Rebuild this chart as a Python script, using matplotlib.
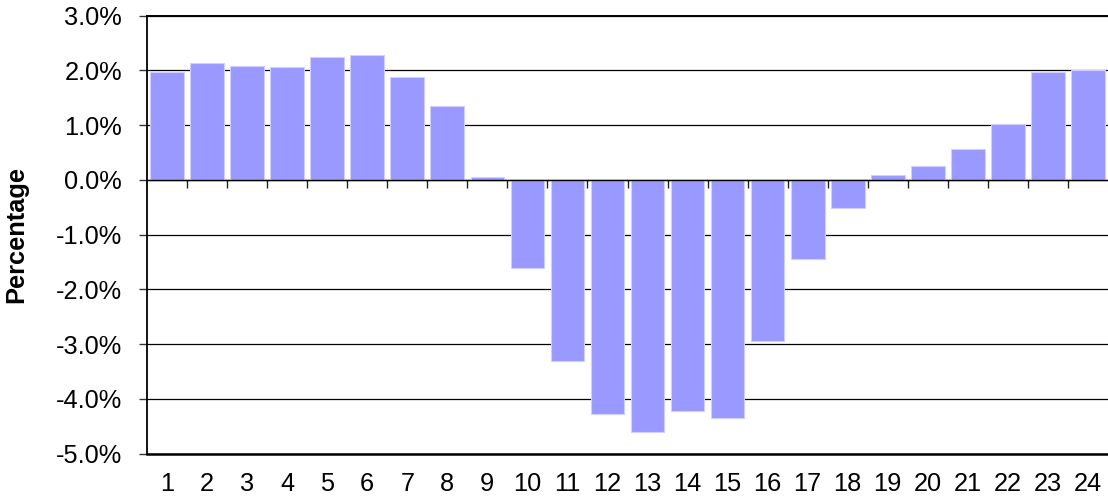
import matplotlib
matplotlib.use("Agg")
import matplotlib.pyplot as plt
from matplotlib.ticker import FuncFormatter, FixedLocator

plt.rcParams['font.family'] = ['Liberation Sans', 'DejaVu Sans']
plt.rcParams['axes.unicode_minus'] = False

categories = list(range(1, 25))
values = [1.98, 2.13, 2.08, 2.06, 2.24, 2.28, 1.88, 1.35, 0.05, -1.61,
          -3.31, -4.28, -4.60, -4.23, -4.35, -2.94, -1.45, -0.52, 0.09, 0.26,
          0.56, 1.03, 1.97, 2.00]
y_ticks = [3, 2, 1, 0, -1, -2, -3, -4, -5]

fig = plt.figure(figsize=(11.08, 5.0), dpi=100)
ax = fig.add_axes([147/1108, 1 - 453.5/500, 961/1108, (453.5 - 15.7)/500])

ax.bar(categories, values, width=0.84, color='#9999FF', edgecolor='#D0D0FF',
       linewidth=0.8, zorder=3)

ax.set_xlim(0.5, 24.5)
ax.set_ylim(-5, 3)
ax.yaxis.set_major_locator(FixedLocator(y_ticks))
ax.yaxis.set_major_formatter(FuncFormatter(lambda v, p: f"{v:.1f}%"))
ax.grid(axis='y', color='black', linewidth=0.9, zorder=0)
ax.tick_params(axis='y', direction='out', length=6, width=1, pad=12,
               labelsize=18.3, color='#333333')

# x axis: spine at zero with boundary ticks
ax.spines['bottom'].set_position(('data', 0))
ax.spines['bottom'].set_linewidth(1.0)
ax.spines['bottom'].set_zorder(4)
ax.xaxis.set_major_locator(FixedLocator([c + 0.5 for c in categories[:-1]]))
ax.tick_params(axis='x', direction='out', length=6, width=1, labelbottom=False,
               color='#222222')
ax.spines['left'].set_linewidth(1.3)
ax.spines['top'].set_linewidth(1.4)
ax.spines['right'].set_visible(False)

sec = ax.secondary_xaxis(0.0)
sec.set_xticks(categories)
sec.set_xticklabels([str(c) for c in categories])
sec.tick_params(axis='x', length=0, pad=13, labelsize=18.3)
sec.spines['bottom'].set_linewidth(1.8)

ax.set_ylabel('Percentage', fontsize=18.3, fontweight='bold')
ax.yaxis.set_label_coords((28 - 147)/961, 0.5)

fig.savefig('out.png', dpi=100)
